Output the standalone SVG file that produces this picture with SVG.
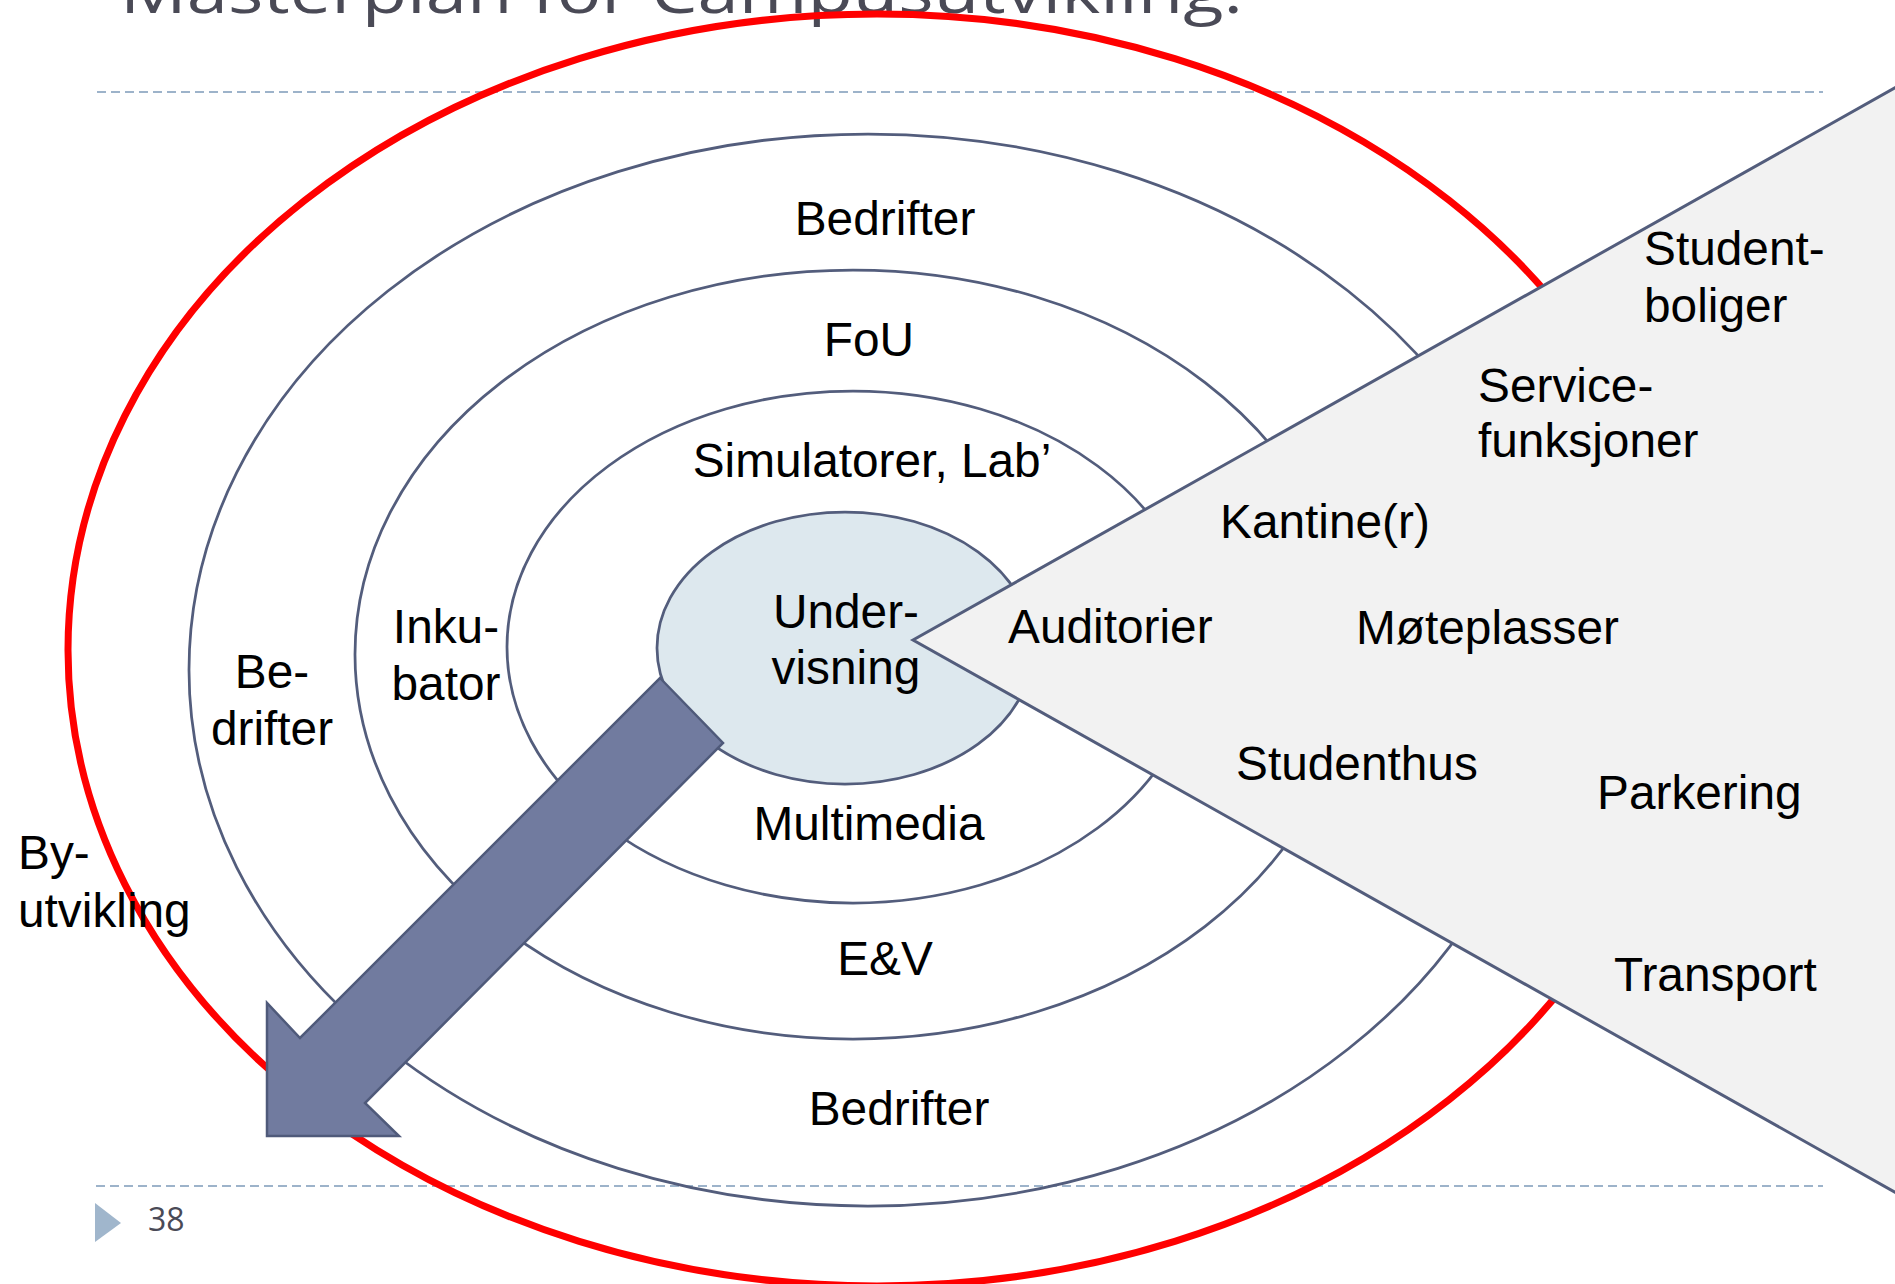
<svg xmlns="http://www.w3.org/2000/svg" width="1895" height="1284" viewBox="0 0 1895 1284">
<style>
.ring{fill:none;stroke:#535d7c;stroke-width:2.75}
.lbl{font-family:"Liberation Sans",Arial,sans-serif;font-size:47.8px;fill:#000}
.mid{text-anchor:middle}
.dash{stroke:#9db3ca;stroke-width:2;stroke-dasharray:9 5;fill:none}
.ttl{font-family:"Open Sans","Noto Sans",sans-serif;fill:#4a4a56}
</style>
<rect x="0" y="0" width="1895" height="1284" fill="#fff"/>
<g id="title">
<text class="ttl" x="120" y="13" font-size="60" textLength="1123" lengthAdjust="spacingAndGlyphs">Masterplan for Campusutvikling.</text>
</g>
<g id="rules">
<line class="dash" x1="97" y1="92" x2="1823" y2="92"/>
<line class="dash" x1="96" y1="1186" x2="1823" y2="1186"/>
</g>
<g id="ring-bedrifter"><ellipse class="ring" cx="868" cy="670" rx="679" ry="536"/></g>
<g id="ring-fou"><ellipse class="ring" cx="853" cy="654.5" rx="498" ry="384.5"/></g>
<g id="ring-simulatorer"><ellipse class="ring" cx="853" cy="647" rx="346" ry="256"/></g>
<g id="byutvikling-ring"><ellipse cx="877" cy="650" rx="809" ry="636" fill="none" stroke="#ff0000" stroke-width="7"/></g>
<g id="core"><ellipse cx="845" cy="648" rx="188" ry="136" fill="#dde8ee" stroke="#535d7c" stroke-width="2.75"/></g>
<g id="connectors">
<path d="M660,678 L723,743 L365,1103 L399,1136 L267,1136 L267,1003 L300,1038 Z" fill="#717b9f" stroke="#4f5a7a" stroke-width="2.5" stroke-linejoin="miter"/>
</g>
<g id="services-wedge"><path d="M913,640 L1900,85 L1900,1195 Z" fill="#f2f2f2" stroke="#535d7c" stroke-width="3"/></g>
<g id="labels">
<text class="lbl mid" x="885" y="235">Bedrifter</text>
<text class="lbl mid" x="869" y="356">FoU</text>
<text class="lbl mid" x="872" y="477">Simulatorer, Lab’</text>
<text class="lbl mid" x="846" y="628">Under-</text>
<text class="lbl mid" x="846" y="684">visning</text>
<text class="lbl mid" x="869" y="840">Multimedia</text>
<text class="lbl mid" x="885" y="975">E&amp;V</text>
<text class="lbl mid" x="899" y="1125">Bedrifter</text>
<text class="lbl mid" x="272" y="688">Be-</text>
<text class="lbl mid" x="272" y="745">drifter</text>
<text class="lbl mid" x="446" y="643">Inku-</text>
<text class="lbl mid" x="446" y="700">bator</text>
<text class="lbl" x="18" y="869">By-</text>
<text class="lbl" x="18" y="927">utvikling</text>
<text class="lbl" x="1008" y="643">Auditorier</text>
<text class="lbl" x="1220" y="538">Kantine(r)</text>
<text class="lbl" x="1478" y="402">Service-</text>
<text class="lbl" x="1478" y="457">funksjoner</text>
<text class="lbl" x="1644" y="265">Student-</text>
<text class="lbl" x="1644" y="322">boliger</text>
<text class="lbl" x="1356" y="644">Møteplasser</text>
<text class="lbl" x="1236" y="780">Studenthus</text>
<text class="lbl" x="1597" y="809">Parkering</text>
<text class="lbl" x="1614" y="991">Transport</text>
</g>
<g id="footer">
<path d="M95,1203 L121,1223 L95,1242 Z" fill="#a0b6cc"/>
<text class="ttl" x="148" y="1231" font-size="32">38</text>
</g>
</svg>
